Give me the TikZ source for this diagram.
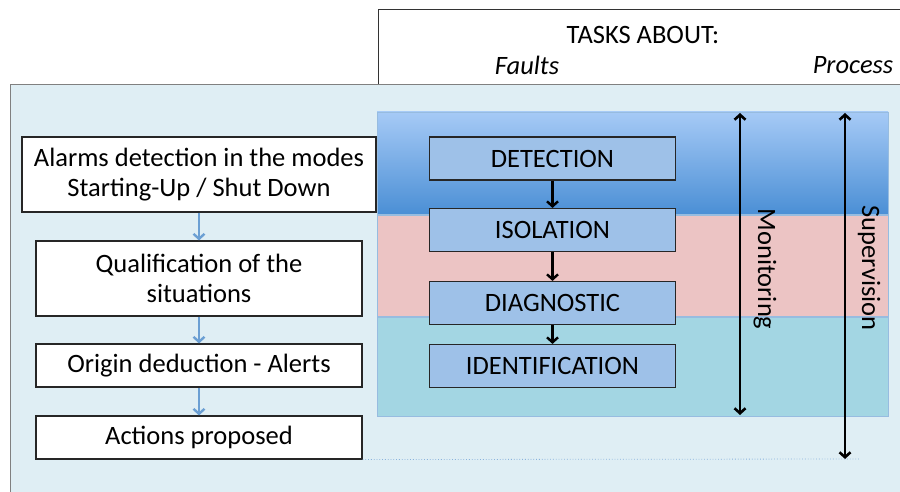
\documentclass[tikz,border=0pt]{standalone}
\usepackage{fontspec}
\setmainfont{Carlito}
\usetikzlibrary{arrows.meta}
\definecolor{bgblue}{HTML}{DFEEF4}
\definecolor{bandtop}{HTML}{A6CAF6}
\definecolor{bandbot}{HTML}{4B8FD5}
\definecolor{bandpink}{HTML}{ECC4C4}
\definecolor{bandteal}{HTML}{A3D6E3}
\definecolor{taskfill}{HTML}{9EC1E8}
\definecolor{flowblue}{HTML}{6B9FD3}
\newcommand{\bigtext}{\fontsize{26.5}{30}\selectfont}
\tikzset{
  stepbox/.style={draw=black!85, line width=1.1pt, fill=white, minimum width=326pt, align=center, font=\bigtext},
  taskbox/.style={draw=black!85, line width=1.1pt, fill=taskfill, minimum width=246pt, minimum height=43pt, font=\bigtext},
  band/.style={draw=flowblue!70, line width=0.8pt},
  flow/.style={line width=2.4pt, flowblue, -{Straight Barb[length=5pt,width=11pt]}},
  down/.style={line width=2.4pt, -{Straight Barb[length=5pt,width=11pt]}},
  span/.style={line width=2.6pt, {Straight Barb[length=5pt,width=11pt]}-{Straight Barb[length=5pt,width=11pt]}},
}
\begin{document}
\begin{tikzpicture}[x=1pt, y=-1pt]
      \useasboundingbox (0,0) rectangle (900,492);
      % header and background
      \draw[black!80, line width=1pt, fill=white] (378,10) rectangle (905,85);
      \node[font=\bigtext] (tasks) at (643,35) {TASKS ABOUT:};
      \node[font=\bigtext\itshape] (faults) at (527,65) {Faults};
      \node[font=\bigtext\itshape] (process) at (853,65) {Process};
      \draw[black!50, line width=1pt, fill=bgblue] (10,85) rectangle (905,497);
      % bands
      \shade[band, top color=bandtop, bottom color=bandbot] (377,112) rectangle (888,214);
      \draw[band, fill=bandpink] (377,215) rectangle (888,316);
      \draw[band, fill=bandteal] (377,317) rectangle (888,416);
      % tasks
      \node[taskbox] (t1) at (552.5,158.5) {DETECTION};
      \node[taskbox] (t2) at (552.5,230) {ISOLATION};
      \node[taskbox] (t3) at (552.5,303) {DIAGNOSTIC};
      \node[taskbox] (t4) at (552.5,366) {IDENTIFICATION};
      \path[down] (t1) edge (t2) (t2) edge (t3) (t3) edge (t4);
      % monitoring / supervision
      \coordinate (m1) at (740,113);
      \coordinate (m2) at (740,415);
      \coordinate (s1) at (845,113);
      \coordinate (s2) at (845,459);
      \draw[span] (m1) -- (m2);
      \draw[span] (s1) -- (s2);
      \node[rotate=-90, font=\bigtext] (mon) at (765,269) {Monitoring};
      \node[rotate=-90, font=\bigtext] (sup) at (869,268) {Supervision};
      % steps
      \node[stepbox, minimum width=354pt, minimum height=75pt] (a1) at (199,174.5) {Alarms detection in the modes\\Starting-Up / Shut Down};
      \node[stepbox, minimum height=75pt] (a2) at (199,278.5) {Qualification of the\\situations};
      \node[stepbox, minimum height=43pt] (a3) at (199,365.5) {Origin deduction - Alerts};
      \node[stepbox, minimum height=43pt] (a4) at (199,437.5) {Actions proposed};
      \path[flow] (a1) edge (a2) (a2) edge (a3) (a3) edge (a4);
      \coordinate (dend) at (860,459);
      \draw[dotted, flowblue!80, line width=0.8pt] (a4.south east) -- (dend);
    \end{tikzpicture}
\end{document}
